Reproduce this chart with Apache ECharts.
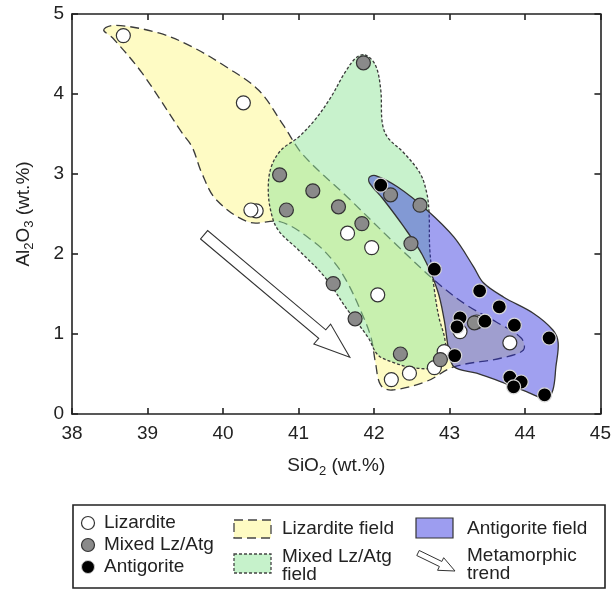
<!DOCTYPE html>
<html><head><meta charset="utf-8">
<script src="https://cdn.jsdelivr.net/npm/echarts@6/dist/echarts.min.js"></script>
<style>html,body{margin:0;padding:0;background:#fff}#c{width:614px;height:591px}</style>
</head><body><div id="c"></div>
<script>
// ---- data ----
const xTicks = [38, 39, 40, 41, 42, 43, 44, 45];
const yTicks = [0, 1, 2, 3, 4, 5];
const lizarditePts = [[38.68,4.73],[40.27,3.89],[40.44,2.54],[40.37,2.55],[41.65,2.26],[41.97,2.08],[42.05,1.49],[42.23,0.43],[42.47,0.51],[42.80,0.58],[42.93,0.78],[43.14,1.03],[43.80,0.89],[43.36,1.15]];
const mixedPts = [[41.86,4.39],[40.75,2.99],[41.19,2.79],[40.84,2.55],[41.53,2.59],[41.84,2.38],[42.22,2.74],[42.61,2.61],[42.49,2.13],[41.46,1.63],[41.75,1.19],[42.35,0.75],[42.88,0.68],[43.33,1.14]];
const antigoritePts = [[42.09,2.86],[42.80,1.81],[43.40,1.54],[43.66,1.34],[43.86,1.11],[44.32,0.95],[43.14,1.20],[43.10,1.09],[43.47,1.16],[43.07,0.73],[43.80,0.46],[43.95,0.40],[43.85,0.34],[44.26,0.24]];
const lizarditeField = [[38.42,4.80],[38.57,4.86],[39.16,4.76],[39.59,4.59],[40.04,4.34],[40.47,4.05],[40.80,3.61],[41.06,3.24],[41.65,2.71],[42.27,2.14],[42.84,1.64],[43.23,1.36],[43.62,1.15],[43.95,0.95],[43.98,0.80],[43.69,0.70],[43.06,0.59],[42.70,0.41],[42.24,0.30],[42.09,0.36],[42.02,0.64],[41.96,0.96],[41.82,1.30],[41.65,1.64],[41.48,1.89],[41.22,2.14],[40.77,2.40],[40.34,2.40],[39.91,2.68],[39.72,3.01],[39.59,3.34],[39.46,3.51],[38.93,4.26],[38.54,4.70]];
const mixedField = [[41.88,4.49],[42.02,4.36],[42.09,4.05],[42.11,3.64],[42.18,3.46],[42.40,3.26],[42.61,3.01],[42.70,2.76],[42.73,2.51],[42.74,2.05],[42.80,1.55],[42.86,1.21],[42.94,0.93],[42.94,0.70],[42.80,0.58],[42.51,0.58],[42.24,0.65],[42.05,0.74],[41.92,0.96],[41.65,1.30],[41.35,1.71],[41.00,2.05],[40.73,2.30],[40.63,2.55],[40.60,2.84],[40.64,3.09],[40.77,3.30],[41.00,3.46],[41.22,3.68],[41.43,3.96],[41.61,4.26],[41.76,4.45]];
const antigoriteField = [[41.94,2.96],[42.02,2.98],[42.31,2.84],[42.70,2.55],[43.06,2.21],[43.32,1.84],[43.45,1.64],[43.72,1.46],[44.11,1.26],[44.37,1.05],[44.44,0.89],[44.41,0.59],[44.37,0.30],[44.28,0.19],[44.02,0.28],[43.72,0.39],[43.36,0.51],[43.06,0.59],[42.99,0.80],[42.93,1.18],[42.84,1.55],[42.64,1.99],[42.38,2.36],[42.11,2.70],[41.94,2.89]];
const trendArrow = [[39.75,2.24],[41.68,0.71]];

const FONT = '"Liberation Sans", Arial, sans-serif';
const TXT = '#222';

function fieldSeries(pts, fill, dash, stroke, z) {
  return {
    type: 'custom', z: z, silent: true, xAxisIndex: 0, yAxisIndex: 0,
    data: pts,
    renderItem: function (params, api) {
      if (params.dataIndex !== 0) return null;
      const P = pts.map(p => api.coord(p));
      return {
        type: 'polygon',
        shape: { points: P, smooth: 0.35 },
        style: { fill: fill, stroke: stroke, lineWidth: 1.3, lineDash: dash }
      };
    }
  };
}

function arrowPoly(p0, p1, w, h, L) {
  const dx = p1[0]-p0[0], dy = p1[1]-p0[1];
  const len = Math.sqrt(dx*dx+dy*dy);
  const ux = dx/len, uy = dy/len, nx = -uy, ny = ux;
  const bx = p1[0]-ux*L, by = p1[1]-uy*L;
  return [
    [p0[0]+nx*w, p0[1]+ny*w], [bx+nx*w, by+ny*w], [bx+nx*h, by+ny*h], p1,
    [bx-nx*h, by-ny*h], [bx-nx*w, by-ny*w], [p0[0]-nx*w, p0[1]-ny*w]
  ];
}

const chart = echarts.init(document.getElementById('c'), null, {renderer: 'canvas'});
const axisCommon = {
  axisLine: { show: true, onZero: false, lineStyle: { color: '#222', width: 1.6 } },
  axisTick: { show: true, inside: true, length: 6, lineStyle: { color: '#222', width: 1.6 } },
  splitLine: { show: false }
};
const subRich = {
  t: { fontSize: 19, fontFamily: FONT, color: TXT, lineHeight: 24, verticalAlign: 'middle' },
  s: { fontSize: 13, fontFamily: FONT, color: TXT, lineHeight: 13, verticalAlign: 'bottom' }
};
chart.setOption({
  animation: false,
  backgroundColor: '#fff',
  grid: { left: 72, top: 14, right: 9, bottom: 177 },
  xAxis: [
    Object.assign({ type: 'value', min: xTicks[0], max: xTicks[xTicks.length-1], interval: 1, position: 'bottom',
      axisLabel: { color: TXT, fontSize: 19, fontFamily: FONT, margin: 10 },
      name: '{t|SiO}{s|2}{t| (wt.%)}', nameLocation: 'middle', nameGap: 40,
      nameTextStyle: { rich: subRich } }, axisCommon),
    Object.assign({ type: 'value', min: xTicks[0], max: xTicks[xTicks.length-1], interval: 1, position: 'top',
      axisLabel: { show: false } }, axisCommon)
  ],
  yAxis: [
    Object.assign({ type: 'value', min: yTicks[0], max: yTicks[yTicks.length-1], interval: 1, position: 'left',
      axisLabel: { color: TXT, fontSize: 19, fontFamily: FONT, margin: 8 },
      name: '{t|Al}{s|2}{t|O}{s|3}{t| (wt.%)}', nameLocation: 'middle', nameGap: 36, nameRotate: 90,
      nameTextStyle: { rich: subRich } }, axisCommon),
    Object.assign({ type: 'value', min: yTicks[0], max: yTicks[yTicks.length-1], interval: 1, position: 'right',
      axisLabel: { show: false } }, axisCommon)
  ],
  series: [
    fieldSeries(lizarditeField, 'rgba(253,247,137,0.5)', [9,5], '#3a3a3a', 1),
    fieldSeries(mixedField, 'rgba(145,229,153,0.5)', [3,2], '#3a3a3a', 2),
    fieldSeries(antigoriteField, 'rgba(45,45,222,0.45)', null, '#333', 3),
    {
      type: 'custom', z: 4, silent: true, data: trendArrow,
      renderItem: function (params, api) {
        if (params.dataIndex !== 0) return null;
        const p0 = api.coord(trendArrow[0]), p1 = api.coord(trendArrow[1]);
        return { type: 'polygon', shape: { points: arrowPoly(p0, p1, 5.5, 13, 36) },
          style: { fill: '#fff', stroke: '#333', lineWidth: 1.1 } };
      }
    },
    { type: 'scatter', z: 5, data: lizarditePts, symbolSize: 14,
      itemStyle: { color: '#fff', borderColor: '#333', borderWidth: 1.2, opacity: 1 } },
    { type: 'scatter', z: 5, data: mixedPts, symbolSize: 14,
      itemStyle: { color: '#8a8a8a', borderColor: '#333', borderWidth: 1.2, opacity: 1 } },
    { type: 'scatter', z: 5, data: antigoritePts, symbolSize: 14,
      itemStyle: { color: '#000', borderColor: '#d8d8d8', borderWidth: 1.2, opacity: 1 } }
  ],
  graphic: [
    { type: 'rect', shape: { x: 73, y: 505, width: 532, height: 83 }, style: { fill: '#fff', stroke: '#222', lineWidth: 1.6 }, z: 10 },
    { type: 'circle', shape: { cx: 88, cy: 523, r: 6.5 }, style: { fill: '#fff', stroke: '#333', lineWidth: 1.2 }, z: 11 },
    { type: 'circle', shape: { cx: 88, cy: 545, r: 6.5 }, style: { fill: '#8a8a8a', stroke: '#333', lineWidth: 1.2 }, z: 11 },
    { type: 'circle', shape: { cx: 88, cy: 567, r: 6.5 }, style: { fill: '#000', stroke: '#ccc', lineWidth: 1 }, z: 11 },
    { type: 'text', x: 104, y: 523, style: { text: 'Lizardite', font: '19px ' + FONT, fill: TXT, verticalAlign: 'middle' }, z: 11 },
    { type: 'text', x: 104, y: 545, style: { text: 'Mixed Lz/Atg', font: '19px ' + FONT, fill: TXT, verticalAlign: 'middle' }, z: 11 },
    { type: 'text', x: 104, y: 567, style: { text: 'Antigorite', font: '19px ' + FONT, fill: TXT, verticalAlign: 'middle' }, z: 11 },
    { type: 'rect', shape: { x: 234, y: 520, width: 37, height: 18 }, style: { fill: '#fefbc3', stroke: '#444', lineWidth: 1.3, lineDash: [9,5] }, z: 11 },
    { type: 'rect', shape: { x: 234, y: 554, width: 37, height: 19 }, style: { fill: '#c6f2cb', stroke: '#444', lineWidth: 1.3, lineDash: [3,2] }, z: 11 },
    { type: 'text', x: 282, y: 529, style: { text: 'Lizardite field', font: '19px ' + FONT, fill: TXT, verticalAlign: 'middle' }, z: 11 },
    { type: 'text', x: 282, y: 557, style: { text: 'Mixed Lz/Atg', font: '19px ' + FONT, fill: TXT, verticalAlign: 'middle' }, z: 11 },
    { type: 'text', x: 282, y: 575, style: { text: 'field', font: '19px ' + FONT, fill: TXT, verticalAlign: 'middle' }, z: 11 },
    { type: 'rect', shape: { x: 416, y: 518, width: 37, height: 20 }, style: { fill: '#9d9df0', stroke: '#333', lineWidth: 1.2 }, z: 11 },
    { type: 'polygon', shape: { points: arrowPoly([418,553],[455,571],2.8,7,16) }, style: { fill: '#fff', stroke: '#333', lineWidth: 1 }, z: 11 },
    { type: 'text', x: 467, y: 529, style: { text: 'Antigorite field', font: '19px ' + FONT, fill: TXT, verticalAlign: 'middle' }, z: 11 },
    { type: 'text', x: 467, y: 556, style: { text: 'Metamorphic', font: '19px ' + FONT, fill: TXT, verticalAlign: 'middle' }, z: 11 },
    { type: 'text', x: 467, y: 574, style: { text: 'trend', font: '19px ' + FONT, fill: TXT, verticalAlign: 'middle' }, z: 11 }
  ]
});
</script></body></html>
